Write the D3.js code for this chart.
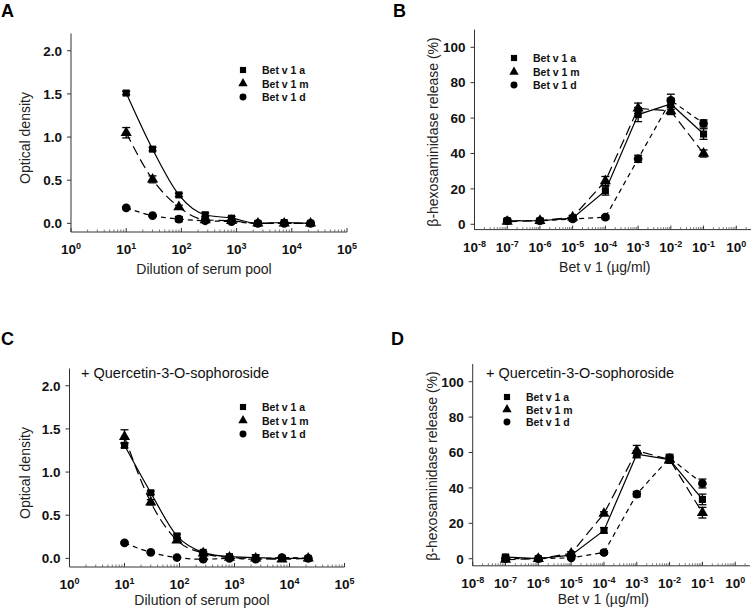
<!DOCTYPE html>
<html>
<head>
<meta charset="utf-8">
<script src="https://cdn.jsdelivr.net/npm/d3@7"></script>
<style>
  body { margin: 0; background: #fff; }
  text { font-family: Arial, "Liberation Sans", sans-serif; }
</style>
</head>
<body>
<svg id="fig" width="753" height="610"></svg>
<script>
const seriesNames = ['Bet v 1 a', 'Bet v 1 m', 'Bet v 1 d'];
const dilutions = [10, 30, 90, 270, 810, 2430, 7290, 21870];
const concentrations = [1e-7, 1e-6, 1e-5, 1e-4, 1e-3, 1e-2, 1e-1];
const odTicks = [0, 0.5, 1.0, 1.5, 2.0];
const releaseTicks = [0, 20, 40, 60, 80, 100];
const dilutionExps = [0, 1, 2, 3, 4, 5];
const concExps = [-8, -7, -6, -5, -4, -3, -2, -1, 0];

// A: optical density, no inhibitor
const odA_a = [1.51, 0.86, 0.33, 0.10, 0.06, 0.00, 0.01, 0.00];
const odA_m = [1.05, 0.51, 0.19, 0.04, 0.03, 0.00, 0.00, 0.00];
const odA_d = [0.18, 0.09, 0.05, 0.03, 0.02, 0.00, 0.00, 0.00];
const errA_a = [0.02, 0.02, 0.02, 0.02, 0.02, 0.01, 0.01, 0.01];
const errA_m = [0.06, 0.04, 0.02, 0.02, 0.01, 0.01, 0.01, 0.01];
const errA_d = [0.01, 0.01, 0.03, 0.02, 0.01, 0.01, 0.01, 0.01];

// B: release, no inhibitor
const relB_a = [2, 2, 3.5, 19, 62, 68, 51];
const relB_m = [1.5, 2, 4, 24.5, 65.5, 64, 40];
const relB_d = [2, 2, 3, 4, 37, 70, 57];
const errB_a = [1, 1, 1, 2.5, 4, 3, 3];
const errB_m = [1, 1, 1, 2.5, 3, 2, 2];
const errB_d = [1, 1, 1, 1, 2, 3.5, 2];

// C: optical density + quercetin
const odC_a = [1.31, 0.76, 0.26, 0.07, 0.02, 0.01, 0.00, 0.00];
const odC_m = [1.41, 0.65, 0.21, 0.06, 0.01, 0.00, -0.01, 0.00];
const odC_d = [0.18, 0.07, 0.01, -0.01, 0.00, -0.01, 0.01, 0.00];
const errC_a = [0.03, 0.02, 0.02, 0.01, 0.01, 0.03, 0.02, 0.01];
const errC_m = [0.08, 0.03, 0.02, 0.01, 0.01, 0.01, 0.01, 0.01];
const errC_d = [0.01, 0.01, 0.01, 0.01, 0.01, 0.01, 0.01, 0.01];

// D: release + quercetin
const relD_a = [1, 0, 2, 16, 59, 56, 33.5];
const relD_m = [-0.5, 0, 3, 25.5, 61, 56, 26];
const relD_d = [0, 0, 0.5, 3.5, 36.5, 57, 42.5];
const errD_a = [1, 0.5, 1, 1.5, 2, 2, 3];
const errD_m = [1, 0.5, 1, 1, 3, 2, 3];
const errD_d = [1, 0.5, 0.5, 1, 1.5, 2, 2.5];

const svg = d3.select('#fig');
const symbols = [d3.symbolSquare, d3.symbolTriangle, d3.symbolCircle];
const symbolSizes = [50, 54, 60];
const dashes = [null, '10,5', '5,4'];

function drawPanel(cfg) {
  const g = svg.append('g');
  const x = d3.scaleLog().domain(cfg.xDomain).range(cfg.xRange);
  const y = d3.scaleLinear().domain(cfg.yDomain).range(cfg.yRange);
  const x0 = cfg.xRange[0], x1 = cfg.xRange[1];
  const yb = cfg.yRange[0], yt = cfg.yRange[1];

  // panel letter
  g.append('text').attr('x', cfg.letterPos[0]).attr('y', cfg.letterPos[1])
    .attr('font-size', 18).attr('font-weight', 'bold').text(cfg.letter);

  // axes lines
  g.append('line').attr('x1', x0).attr('x2', x0).attr('y1', yt).attr('y2', yb)
    .attr('stroke', '#333').attr('stroke-width', 1);
  g.append('line').attr('x1', x0).attr('x2', x1).attr('y1', yb).attr('y2', yb)
    .attr('stroke', '#333').attr('stroke-width', 1);

  // y ticks
  const fmt = d3.format(cfg.yFormat);
  cfg.yTicks.forEach(t => {
    g.append('line').attr('x1', x0 - 4).attr('x2', x0).attr('y1', y(t)).attr('y2', y(t))
      .attr('stroke', '#333');
    g.append('text').attr('x', x0 - 9).attr('y', y(t) + 4.8)
      .attr('text-anchor', 'end').attr('font-size', 13.5).attr('font-weight', 'bold')
      .attr('fill', '#111').text(fmt(t));
  });

  // x ticks (inside), major + minor
  cfg.xExps.forEach(e => {
    const v = Math.pow(10, e);
    g.append('line').attr('x1', x(v)).attr('x2', x(v)).attr('y1', yb).attr('y2', yb - 4)
      .attr('stroke', '#333');
    for (let k = 2; k <= 9; k++) {
      const mv = v * k;
      if (x(mv) > x1) break;
      g.append('line').attr('x1', x(mv)).attr('x2', x(mv)).attr('y1', yb).attr('y2', yb - 2.5)
        .attr('stroke', '#555').attr('stroke-width', 0.8);
    }
    const lab = g.append('text').attr('x', x(v)).attr('y', yb + 22)
      .attr('text-anchor', 'middle').attr('font-size', 13.5).attr('font-weight', 'bold')
      .attr('fill', '#111');
    lab.append('tspan').text('10');
    lab.append('tspan').attr('dy', -5).attr('font-size', 9).text(String(e));
  });

  // axis titles
  g.append('text').attr('x', (x0 + x1) / 2 + cfg.xTitleShift).attr('y', yb + cfg.xTitleGap)
    .attr('text-anchor', 'middle').attr('font-size', 14).attr('fill', '#222')
    .text(cfg.xTitle);
  g.append('text')
    .attr('transform', `translate(${cfg.yTitleX},${cfg.yTitleY}) rotate(-90)`)
    .attr('text-anchor', 'middle').attr('font-size', 14).attr('fill', '#222')
    .text(cfg.yTitle);

  if (cfg.note) {
    g.append('text').attr('x', cfg.note[0]).attr('y', cfg.note[1])
      .attr('font-size', 14.5).attr('fill', '#111').text('+ Quercetin-3-O-sophoroside');
  }

  // series
  const line = d3.line().x(d => x(d[0])).y(d => y(d[1])).curve(cfg.curve);
  cfg.series.forEach((vals, si) => {
    const pts = cfg.xValues.map((xv, i) => [xv, vals[i]]);
    g.append('path').attr('d', line(pts)).attr('fill', 'none')
      .attr('stroke', '#000').attr('stroke-width', 1.2)
      .attr('stroke-dasharray', dashes[si]);
  });
  cfg.series.forEach((vals, si) => {
    const errs = cfg.errors[si];
    cfg.xValues.forEach((xv, i) => {
      const cx = x(xv), lo = y(vals[i] - errs[i]), hi = y(vals[i] + errs[i]);
      g.append('line').attr('x1', cx).attr('x2', cx).attr('y1', lo).attr('y2', hi)
        .attr('stroke', '#000').attr('stroke-width', 1.3);
      [lo, hi].forEach(yy => g.append('line').attr('x1', cx - 4).attr('x2', cx + 4)
        .attr('y1', yy).attr('y2', yy).attr('stroke', '#000').attr('stroke-width', 1.3));
    });
    g.selectAll(null).data(cfg.xValues).join('path')
      .attr('transform', (xv, i) => `translate(${x(xv)},${y(vals[i])})`)
      .attr('d', d3.symbol(symbols[si], symbolSizes[si]))
      .attr('fill', '#000');
  });

  // legend
  seriesNames.forEach((name, si) => {
    const ly = cfg.legend.rows[si];
    g.append('path').attr('transform', `translate(${cfg.legend.x},${ly})`)
      .attr('d', d3.symbol(symbols[si], 38)).attr('fill', '#000');
    g.append('text').attr('x', cfg.legend.x + 19).attr('y', ly + 4)
      .attr('font-size', 10.5).attr('font-weight', 'bold').attr('fill', '#111').text(name);
  });
}

drawPanel({
  letter: 'A', letterPos: [1, 17],
  xDomain: [1, 1e5], xRange: [71, 347], yDomain: [-0.1, 2.2], yRange: [232, 33.5],
  xExps: dilutionExps, yTicks: odTicks, yFormat: '.1f', xValues: dilutions,
  series: [odA_a, odA_m, odA_d], errors: [errA_a, errA_m, errA_d],
  curve: d3.curveMonotoneX, xTitle: 'Dilution of serum pool', xTitleShift: -5, xTitleGap: 42,
  yTitle: 'Optical density', yTitleX: 30, yTitleY: 138,
  legend: { x: 243, rows: [70, 83.5, 97] }
});
drawPanel({
  letter: 'B', letterPos: [393, 17],
  xDomain: [1e-8, Math.pow(10, 0.45)], xRange: [474.5, 751], yDomain: [-3, 110], yRange: [229.6, 29.6],
  xExps: concExps, yTicks: releaseTicks, yFormat: 'd', xValues: concentrations,
  series: [relB_a, relB_m, relB_d], errors: [errB_a, errB_m, errB_d],
  curve: d3.curveLinear, xTitle: 'Bet v 1 (\u00b5g/ml)', xTitleShift: -8, xTitleGap: 42,
  yTitle: '\u03b2-hexosaminidase release (%)', yTitleX: 438, yTitleY: 132,
  legend: { x: 514, rows: [58, 72, 85] }
});
drawPanel({
  letter: 'C', letterPos: [1, 345],
  xDomain: [1, 1e5], xRange: [69.5, 344.5], yDomain: [-0.1, 2.2], yRange: [567, 368.5],
  xExps: dilutionExps, yTicks: odTicks, yFormat: '.1f', xValues: dilutions,
  series: [odC_a, odC_m, odC_d], errors: [errC_a, errC_m, errC_d],
  curve: d3.curveMonotoneX, xTitle: 'Dilution of serum pool', xTitleShift: -5, xTitleGap: 38,
  yTitle: 'Optical density', yTitleX: 30, yTitleY: 473,
  legend: { x: 243, rows: [407, 420.5, 434] }, note: [81, 378]
});
drawPanel({
  letter: 'D', letterPos: [391, 345],
  xDomain: [1e-8, Math.pow(10, 0.45)], xRange: [472.7, 750], yDomain: [-4, 110], yRange: [565.8, 364],
  xExps: concExps, yTicks: releaseTicks, yFormat: 'd', xValues: concentrations,
  series: [relD_a, relD_m, relD_d], errors: [errD_a, errD_m, errD_d],
  curve: d3.curveLinear, xTitle: 'Bet v 1 (\u00b5g/ml)', xTitleShift: -8, xTitleGap: 38,
  yTitle: '\u03b2-hexosaminidase release (%)', yTitleX: 437, yTitleY: 466,
  legend: { x: 507, rows: [397, 409.5, 422] }, note: [486, 378]
});
</script>
</body>
</html>
